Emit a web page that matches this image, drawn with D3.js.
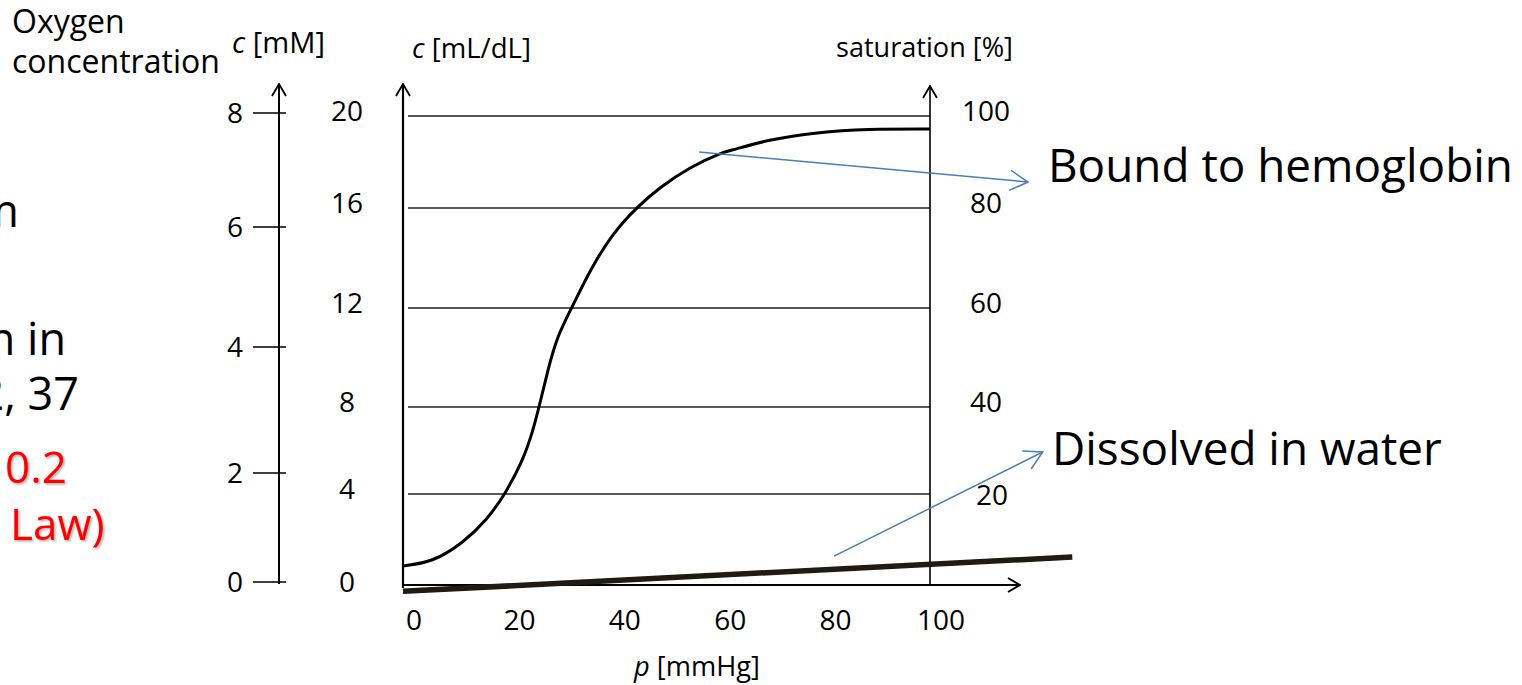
<!DOCTYPE html>
<html>
<head>
<meta charset="utf-8">
<script src="https://cdn.jsdelivr.net/npm/d3@7"></script>
<style>
  html, body { margin: 0; padding: 0; background: #fff; }
  svg { display: block; font-family: "Open Sans", sans-serif; }
</style>
</head>
<body>
<svg id="chart" width="1522" height="685"></svg>
<script>
// partial pressure of O2 [mmHg] and O2 bound to hemoglobin [mL/dL]
var pressure = [0, 5.7, 11.4, 15.9, 19.4, 22.8, 24.7, 26, 27.5, 29.2, 32.1, 35.5, 39.8, 44.4, 48.8, 54.5, 60.2, 62.6, 69.1, 78.6, 88, 100];
var bound    = [0.84, 1.01, 1.85, 2.86, 4.0, 5.56, 6.94, 8.16, 9.5, 10.83, 12.04, 13.52, 15.0, 16.04, 16.91, 17.78, 18.39, 18.52, 18.96, 19.3, 19.43, 19.43];

// dissolved O2 (thick straight line), ends of the line
var dissolvedP = [0, 127];
var dissolvedC = [-0.28, 1.23];

// tick labels
var pTicks   = [0, 20, 40, 60, 80, 100];
var cTicks   = [0, 4, 8, 12, 16, 20];
var mMTicks  = [0, 2, 4, 6, 8];
var satTicks = [20, 40, 60, 80, 100];

// annotation arrows [p, c]
var boundArrow     = [[56.2, 18.43], [118.6, 17.13]];
var dissolvedArrow = [[81.8, 1.27], [121.4, 5.93]];

var svg = d3.select('#chart');

// scales (hand drawn slide, so the c axes are not perfectly even)
var x  = d3.scaleLinear().domain([0, 100]).range([403, 930]);
var yC = d3.scaleLinear().domain([0, 4, 8, 12, 16, 20]).range([585, 494, 407, 308, 208, 116]);
var yM = d3.scaleLinear().domain([0, 2, 4, 6, 8]).range([582, 473, 347, 227, 113]);
var ySat = function (s) { return yC(s / 5); };

function fit(sel, w) {
  sel.each(function () {
    var cur = this.getComputedTextLength();
    var fs = parseFloat(this.getAttribute('font-size'));
    this.setAttribute('font-size', fs * w / cur);
  });
  return sel;
}

// arrow markers
var defs = svg.append('defs');
defs.append('marker')
  .attr('id', 'open-black')
  .attr('markerUnits', 'userSpaceOnUse')
  .attr('viewBox', '0 0 14 16')
  .attr('refX', 13).attr('refY', 8)
  .attr('markerWidth', 14).attr('markerHeight', 16)
  .attr('orient', 'auto')
  .append('path')
  .attr('d', 'M1,1 L13,8 L1,15')
  .attr('fill', 'none').attr('stroke', '#000').attr('stroke-width', 1.8);

defs.append('marker')
  .attr('id', 'open-blue')
  .attr('markerUnits', 'userSpaceOnUse')
  .attr('viewBox', '0 0 20 22')
  .attr('refX', 19).attr('refY', 11)
  .attr('markerWidth', 20).attr('markerHeight', 22)
  .attr('orient', 'auto')
  .append('path')
  .attr('d', 'M1,1 L19,11 L1,21')
  .attr('fill', 'none').attr('stroke', '#4a7ebb').attr('stroke-width', 1.5);

var shadow = defs.append('filter').attr('id', 'shadow')
  .attr('x', '-10%').attr('y', '-10%').attr('width', '130%').attr('height', '130%');
shadow.append('feDropShadow')
  .attr('dx', 1.5).attr('dy', 1.5).attr('stdDeviation', 1)
  .attr('flood-color', '#000').attr('flood-opacity', 0.35);

// ---- left slide text, cut off at the window edge as in the original ----
var frag = svg.append('g').attr('font-size', 45).attr('fill', '#000');
frag.append('text').attr('x', 19).attr('y', 227).attr('text-anchor', 'end').text('m');
frag.append('text').attr('x', 66).attr('y', 355).attr('text-anchor', 'end').text('n in');
frag.append('text').attr('x', 79).attr('y', 410).attr('text-anchor', 'end').text('2, 37');

var red = svg.append('g').attr('fill', '#ff0000').attr('font-size', 44).attr('filter', 'url(#shadow)');
red.append('text').attr('x', 5).attr('y', 483).text('0.2');
red.append('text').attr('x', 10).attr('y', 540).text('Law)');

// ---- titles ----
var t1 = svg.append('text').attr('x', 12).attr('y', 33).attr('font-size', 30).text('Oxygen');
var t2 = svg.append('text').attr('x', 12).attr('y', 73).attr('font-size', 30).text('concentration');
fit(t2, 208);
t1.attr('font-size', t2.attr('font-size'));

function unitLabel(xp, yp, sym, rest, w) {
  var t = svg.append('text').attr('x', xp).attr('y', yp).attr('font-size', 26);
  t.append('tspan').attr('font-style', 'italic').text(sym);
  t.append('tspan').text(rest);
  return fit(t, w);
}
unitLabel(232, 53, 'c', ' [mM]', 93);
unitLabel(412, 58, 'c', ' [mL/dL]', 119);
fit(svg.append('text').attr('x', 836).attr('y', 57).attr('font-size', 26).text('saturation [%]'), 177);
unitLabel(634, 676, 'p', ' [mmHg]', 126);

// ---- gridlines ----
svg.append('g').selectAll('line')
  .data(cTicks.filter(function (d) { return d > 0; }))
  .enter().append('line')
  .attr('x1', x(0) + 5).attr('x2', x(100))
  .attr('y1', function (d) { return yC(d); })
  .attr('y2', function (d) { return yC(d); })
  .attr('stroke', function (d) { return d >= 16 ? '#595959' : '#222'; })
  .attr('stroke-width', function (d) { return d >= 16 ? 2 : 1.3; });

// ---- mM axis ----
var axM = svg.append('g');
axM.append('line')
  .attr('x1', 279).attr('x2', 279)
  .attr('y1', yM(0) + 2).attr('y2', 84)
  .attr('stroke', '#000').attr('stroke-width', 2)
  .attr('marker-end', 'url(#open-black)');
axM.selectAll('.tick').data(mMTicks).enter().append('line')
  .attr('x1', 253).attr('x2', 286)
  .attr('y1', function (d) { return yM(d); })
  .attr('y2', function (d) { return yM(d); })
  .attr('stroke', '#000').attr('stroke-width', 1.6);
axM.selectAll('text').data(mMTicks).enter().append('text')
  .attr('x', 235).attr('y', function (d) { return yM(d) + 10; })
  .attr('text-anchor', 'middle').attr('font-size', 28)
  .text(function (d) { return d; });

// ---- mL/dL axis ----
svg.append('line')
  .attr('x1', x(0)).attr('x2', x(0))
  .attr('y1', 588).attr('y2', 84)
  .attr('stroke', '#000').attr('stroke-width', 2.2)
  .attr('marker-end', 'url(#open-black)');
svg.append('g').selectAll('text').data(cTicks).enter().append('text')
  .attr('x', 347).attr('y', function (d) { return d === 0 ? yC(d) + 7 : yC(d) + 5; })
  .attr('text-anchor', 'middle').attr('font-size', 28)
  .text(function (d) { return d; });

// ---- saturation axis ----
svg.append('line')
  .attr('x1', x(100)).attr('x2', x(100))
  .attr('y1', 586).attr('y2', 86)
  .attr('stroke', '#000').attr('stroke-width', 1.6)
  .attr('marker-end', 'url(#open-black)');
svg.append('g').selectAll('text').data(satTicks).enter().append('text')
  .attr('x', function (d) { return d === 20 ? 992 : 986; })
  .attr('y', function (d) { return ySat(d) + (d === 20 ? 11 : 5); })
  .attr('text-anchor', 'middle').attr('font-size', 28)
  .text(function (d) { return d; });

// ---- p axis ----
svg.append('line')
  .attr('x1', x(0)).attr('x2', 1020)
  .attr('y1', yC(0)).attr('y2', yC(0))
  .attr('stroke', '#000').attr('stroke-width', 1.8)
  .attr('marker-end', 'url(#open-black)');
svg.append('g').selectAll('text').data(pTicks).enter().append('text')
  .attr('x', function (d) { return x(d) + 11; })
  .attr('y', 630)
  .attr('text-anchor', 'middle').attr('font-size', 28)
  .text(function (d) { return d; });

// ---- curves ----
var line = d3.line()
  .x(function (d) { return x(d[0]); })
  .y(function (d) { return yC(d[1]); })
  .curve(d3.curveBasis);

svg.append('path')
  .datum(pressure.map(function (p, i) { return [p, bound[i]]; }))
  .attr('d', line)
  .attr('fill', 'none').attr('stroke', '#000').attr('stroke-width', 3);

svg.append('path')
  .datum(dissolvedP.map(function (p, i) { return [p, dissolvedC[i]]; }))
  .attr('d', d3.line().x(function (d) { return x(d[0]); }).y(function (d) { return yC(d[1]); }))
  .attr('fill', 'none').attr('stroke', '#1d1b12').attr('stroke-width', 5.5);

// ---- annotations ----
svg.append('g').selectAll('line').data([boundArrow, dissolvedArrow]).enter().append('line')
  .attr('x1', function (d) { return x(d[0][0]); })
  .attr('y1', function (d) { return yC(d[0][1]); })
  .attr('x2', function (d) { return x(d[1][0]); })
  .attr('y2', function (d) { return yC(d[1][1]); })
  .attr('stroke', '#4a7ebb').attr('stroke-width', 1.5)
  .attr('marker-end', 'url(#open-blue)');

fit(svg.append('text').attr('x', 1048).attr('y', 182).attr('font-size', 45).text('Bound to hemoglobin'), 465);
fit(svg.append('text').attr('x', 1052).attr('y', 465).attr('font-size', 45).text('Dissolved in water'), 390);
</script>
</body>
</html>
